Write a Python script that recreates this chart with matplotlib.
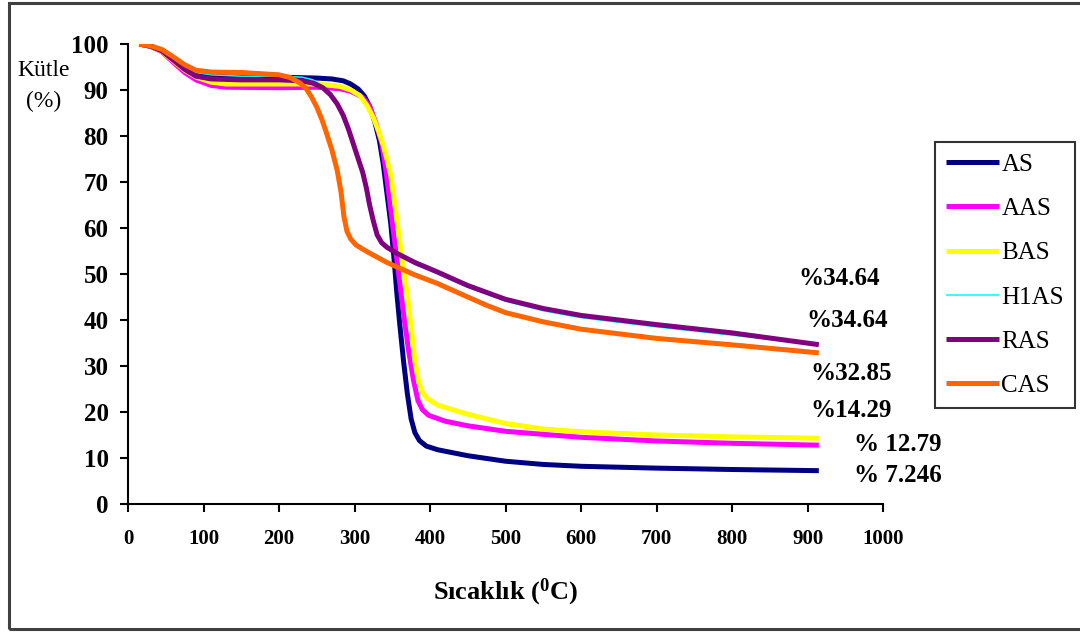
import matplotlib
matplotlib.use("Agg")
import matplotlib.pyplot as plt
from matplotlib.patches import Rectangle

plt.rcParams["font.family"] = ["Liberation Serif", "DejaVu Serif"]
plt.rcParams["mathtext.default"] = "regular"

# Thermogravimetric curves: temperature (°C) vs remaining mass (%)
as_t = [15, 30, 45, 60, 75, 90, 110, 150, 200, 250, 270, 285, 295, 305, 313, 320, 327, 333, 338, 343, 348, 352, 356, 360, 365, 370, 375, 380, 386, 395, 410, 450, 500, 550, 600, 700, 800, 915]
as_m = [100, 99.5, 98.5, 96.8, 95, 93.8, 93, 92.8, 92.8, 92.6, 92.4, 92, 91.3, 90.2, 88.7, 86.5, 83, 79, 74, 67.5, 61, 54, 46, 39, 31, 24, 18.5, 15.5, 13.8, 12.6, 11.8, 10.5, 9.3, 8.6, 8.2, 7.8, 7.5, 7.246]

aas_t = [15, 30, 45, 60, 75, 90, 110, 130, 200, 250, 280, 295, 310, 320, 328, 336, 342, 348, 354, 360, 366, 372, 378, 384, 390, 398, 420, 450, 500, 600, 700, 800, 915]
aas_m = [100, 99.5, 98.3, 96, 93.8, 92.2, 91, 90.6, 90.5, 90.6, 90.3, 89.7, 88.5, 86.5, 83, 78.5, 72, 64, 56, 48, 40, 33, 27, 22.5, 20.5, 19.3, 18, 17, 15.8, 14.5, 13.7, 13.2, 12.79]

bas_t = [15, 30, 45, 60, 75, 90, 110, 130, 250, 280, 295, 307, 317, 325, 332, 338, 343, 348, 354, 360, 366, 371, 376, 380, 385, 390, 396, 410, 450, 500, 550, 600, 700, 800, 915]
bas_m = [100, 99.5, 98.4, 96.3, 94.3, 92.8, 91.7, 91.3, 91.3, 90.8, 90, 88.8, 86.5, 84, 81, 78, 75, 71.5, 64.5, 57, 50, 44, 37, 31, 26.5, 24.3, 23, 21.5, 19.5, 17.5, 16.3, 15.7, 15, 14.6, 14.29]

h1as_t = [15, 30, 45, 60, 75, 90, 110, 150, 200, 230, 245, 258, 268, 277, 285, 292, 299, 305, 311, 316, 320, 325, 330, 336, 343, 356, 380, 409, 450, 500, 550, 600, 700, 800, 915]
h1as_m = [100, 99.6, 98.6, 96.8, 95, 93.8, 93.3, 93, 93, 92.8, 92.2, 90.9, 89.2, 87.1, 84.6, 81.6, 78.1, 75.1, 72, 68.5, 65, 61.5, 58.5, 56.7, 55.6, 54.2, 52.1, 50.1, 47.1, 44.1, 42, 40.5, 38.5, 36.7, 34.64]

ras_t = [15, 30, 45, 60, 75, 90, 110, 150, 200, 230, 245, 258, 268, 277, 285, 292, 299, 305, 311, 316, 320, 325, 330, 336, 343, 356, 380, 409, 450, 500, 550, 600, 700, 800, 915]
ras_m = [100, 99.5, 98.5, 96.5, 94.5, 93, 92.4, 92.2, 92.2, 92, 91.5, 90.5, 89, 87, 84.5, 81.5, 78, 75, 72, 68.5, 65, 61.5, 58.5, 56.8, 55.8, 54.5, 52.5, 50.5, 47.5, 44.5, 42.5, 41, 39, 37.2, 34.64]

cas_t = [15, 30, 45, 60, 75, 90, 110, 150, 200, 215, 228, 236, 243, 250, 257, 263, 270, 277, 282, 286, 290, 295, 302, 315, 343, 380, 409, 450, 475, 500, 550, 600, 700, 800, 915]
cas_m = [100, 99.6, 98.8, 97.2, 95.5, 94.3, 93.9, 93.8, 93.3, 92.7, 91.5, 90.3, 88.5, 86.3, 83.5, 80.6, 77, 72.6, 68, 62.5, 59.3, 57.6, 56.3, 55, 52.5, 49.8, 48, 45, 43.2, 41.6, 39.6, 38, 36, 34.6, 32.85]

names = ["AS", "AAS", "BAS", "H1AS", "RAS", "CAS"]
temps = [as_t, aas_t, bas_t, h1as_t, ras_t, cas_t]
masses = [as_m, aas_m, bas_m, h1as_m, ras_m, cas_m]
colors = ["#000080", "#FF00FF", "#FFFF00", "#00FFFF", "#800080", "#FF6600"]
widths = [3.6, 3.6, 3.6, 1.1, 3.6, 3.6]

# Residual-mass annotations: (series, text x, text y, prefix)
residual_labels = [
    ("RAS", 888, 49.1, "%"),
    ("H1AS", 899, 39.8, "%"),
    ("CAS", 904, 28.3, "%"),
    ("BAS", 904, 20.4, "%"),
    ("AAS", 961, 13.0, "% "),
    ("AS", 961, 6.1, "% "),
]

x_ticks = list(range(0, 1001, 100))
y_ticks = list(range(0, 101, 10))

fig = plt.figure(figsize=(10.8, 6.32), dpi=100)
ax = fig.add_axes([128 / 1080, 1 - 504 / 632, 755 / 1080, 460 / 632])

for t, m, c, w, n in zip(temps, masses, colors, widths, names):
    ax.plot(t, m, color=c, lw=w, label=n, solid_capstyle="butt",
            solid_joinstyle="round")

ax.set_xlim(0, 1000)
ax.set_ylim(0, 100)
ax.set_xticks(x_ticks)
ax.set_yticks(y_ticks)
ax.spines["top"].set_visible(False)
ax.spines["right"].set_visible(False)
for s in ("left", "bottom"):
    ax.spines[s].set_linewidth(1.5)
ax.tick_params(direction="out", length=6, width=1.5, colors="black")
ax.tick_params(axis="x", labelsize=15, pad=12)
ax.tick_params(axis="y", labelsize=18, pad=8)
for lab in ax.get_xticklabels() + ax.get_yticklabels():
    lab.set_fontweight("bold")

ax.set_xlabel("Sıcaklık ($^{0}$C)", fontsize=19, fontweight="bold", labelpad=20)
fig.text(44 / 1080, 1 - 70 / 632, "Kütle", fontsize=17, ha="center", va="center")
fig.text(44 / 1080, 1 - 101 / 632, "(%)", fontsize=17, ha="center", va="center")

final = dict(zip(names, [m[-1] for m in masses]))
for n, tx, ty, pre in residual_labels:
    ax.text(tx, ty, f"{pre}{final[n]:g}", fontsize=18, fontweight="bold",
            ha="left", va="center", clip_on=False)

leg = ax.legend(loc="upper left", bbox_to_anchor=(935 / 1080, 1 - 142 / 632),
                bbox_transform=fig.transFigure, frameon=True, fancybox=False,
                fontsize=18, handlelength=2.1, handletextpad=0.1,
                labelspacing=0.87, borderpad=0.45, borderaxespad=0)
leg.get_frame().set_edgecolor("black")
leg.get_frame().set_linewidth(1.5)

# Outer border of the figure
fig.patches.append(Rectangle((9 / 1080, 3 / 632), 1.2, 626 / 632,
                             transform=fig.transFigure, fill=False,
                             edgecolor="#404040", lw=2.2))

fig.savefig("out.png", dpi=100)
